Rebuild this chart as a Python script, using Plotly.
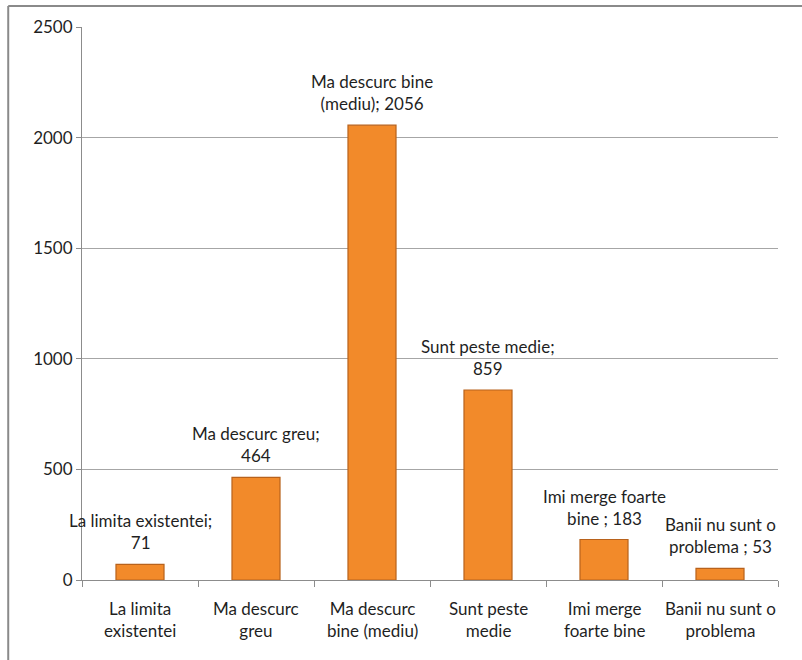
import plotly.graph_objects as go

categories = ["La limita<br>existentei", "Ma descurc<br>greu", "Ma descurc<br>bine (mediu)",
              "Sunt peste<br>medie", "Imi merge<br>foarte bine", "Banii nu sunt o<br>problema"]
values = [71, 464, 2056, 859, 183, 53]
bar_labels = ["La limita existentei;<br>71", "Ma descurc greu;<br>464", "Ma descurc bine<br>(mediu); 2056",
              "Sunt peste medie;<br>859", "Imi merge foarte<br>bine ; 183", "Banii nu sunt o<br>problema ; 53"]
y_ticks = [0, 500, 1000, 1500, 2000, 2500]

FONT = "Lato, 'Open Sans', sans-serif"
TXT = "#1f1f1f"

fig = go.Figure(go.Bar(
    x=categories, y=values,
    width=0.414,
    marker=dict(color="#F28A2A", line=dict(color="#B8621C", width=1.2)),
))

# data labels above each bar, category labels under the axis
for cat, val, lab in zip(categories, values, bar_labels):
    fig.add_annotation(x=cat, y=val, text=lab, showarrow=False,
                       yanchor="bottom", yshift=9,
                       font=dict(family=FONT, size=17, color=TXT))
    fig.add_annotation(x=cat, y=0, yref="paper", text=cat, showarrow=False,
                       yanchor="top", yshift=-16,
                       font=dict(family=FONT, size=17, color=TXT))

fig.update_layout(
    width=802, height=660,
    paper_bgcolor="white",
    plot_bgcolor="white",
    margin=dict(l=82, r=24, t=27, b=80, autoexpand=False),
    showlegend=False,
    font=dict(family=FONT, size=17, color=TXT),
    xaxis=dict(
        range=[-0.5, len(categories) - 0.5], domain=[0, 1],
        showline=True, linecolor="#8c8c8c", linewidth=1,
        ticks="outside", tickson="boundaries", ticklen=6, tickcolor="#8c8c8c",
        showticklabels=False,
        showgrid=False, automargin=False,
    ),
    yaxis=dict(
        range=[0, 2500], tickvals=y_ticks, domain=[0, 1],
        ticksuffix="\u00a0\u00a0",
        showline=True, linecolor="#8c8c8c", linewidth=1,
        ticks="outside", ticklen=5, tickcolor="#8c8c8c",
        gridcolor="#a6a6a6", gridwidth=1,
        zeroline=False, automargin=False,
        tickfont=dict(family=FONT, size=17, color=TXT),
    ),
    shapes=[
        # left and top edges of the pasted chart frame
        dict(type="line", xref="paper", yref="paper",
             x0=-0.106, x1=1.04, y0=1.038, y1=1.038,
             line=dict(color="#8a8a8a", width=2)),
        dict(type="line", xref="paper", yref="paper",
             x0=-0.106, x1=-0.106, y0=1.038, y1=-0.2,
             line=dict(color="#8a8a8a", width=2)),
    ],
)

fig.write_html("out.html", config={"displayModeBar": False},
               post_script="document.body.style.margin='0';")
